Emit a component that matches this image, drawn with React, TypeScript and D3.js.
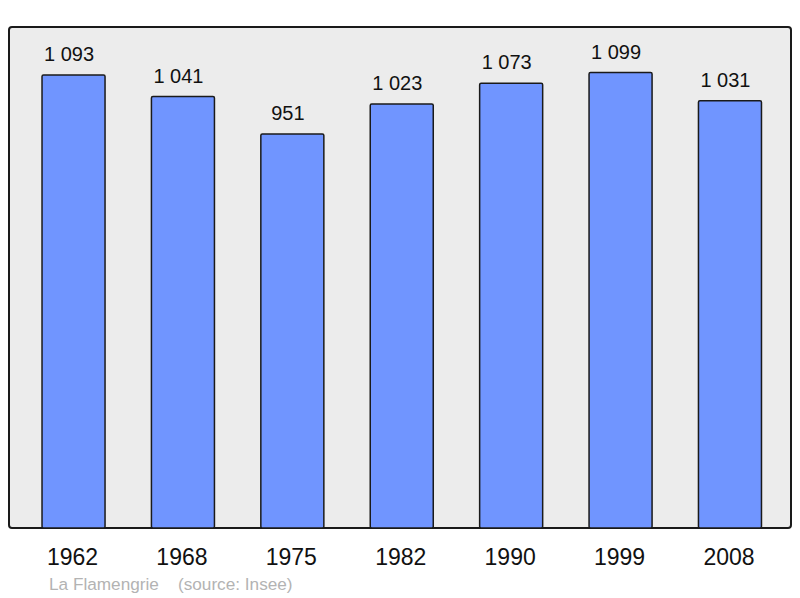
import * as d3 from "d3";
import React from "react";

const years = ["1962", "1968", "1975", "1982", "1990", "1999", "2008"];
const population = [1093, 1041, 951, 1023, 1073, 1099, 1031];
const valueLabels = ["1 093", "1 041", "951", "1 023", "1 073", "1 099", "1 031"];
const footer = "La Flamengrie    (source: Insee)";

const W = 800;
const H = 598;
const frame = { left: 9, top: 27, right: 791, bottom: 528 };

export default function App() {
  const x = d3
    .scaleBand<string>()
    .domain(years)
    .range([9.2, 794.3])
    .paddingInner(0.424)
    .paddingOuter(0.3);

  const y = d3
    .scaleLinear()
    .domain([0, 1209])
    .range([frame.bottom, frame.top]);

  const font = "'Liberation Sans', Arial, sans-serif";

  return (
    <svg
      width={W}
      height={H}
      style={{ position: "absolute", left: 0, top: 0, background: "#fff" }}
      fontFamily={font}
    >
      <rect
        x={frame.left}
        y={frame.top}
        width={frame.right - frame.left}
        height={frame.bottom - frame.top}
        rx={3}
        fill="#ececec"
        stroke="#1a1a1a"
        strokeWidth={2}
      />
      {years.map((yr, i) => {
        const bx = x(yr) ?? 0;
        const cx = bx + x.bandwidth() / 2;
        const top = y(population[i]);
        return (
          <g key={yr}>
            <rect
              x={bx}
              y={top}
              width={x.bandwidth()}
              height={frame.bottom - top}
              rx={1.5}
              fill="#7095ff"
              stroke="#1a1a1a"
              strokeWidth={1.5}
            />
            <text x={cx - 4.5} y={top - 14} textAnchor="middle" fontSize={20} fill="#111">
              {valueLabels[i]}
            </text>
            <text x={cx - 1} y={565} textAnchor="middle" fontSize={23} fill="#111">
              {yr}
            </text>
          </g>
        );
      })}
      <text x={49} y={590} fontSize={17.2} fill="#b3b3b3" style={{ whiteSpace: "pre" }}>
        {footer}
      </text>
    </svg>
  );
}
